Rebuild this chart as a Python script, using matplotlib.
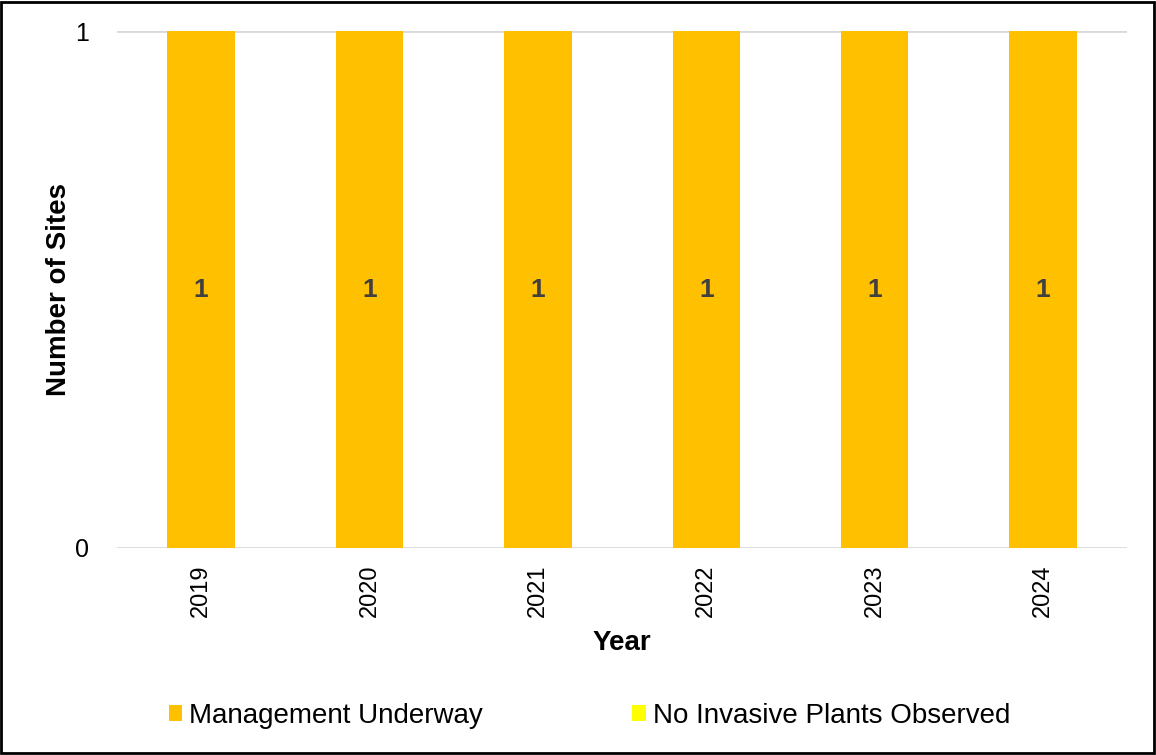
import matplotlib.pyplot as plt
import numpy as np
from matplotlib.patches import Rectangle

plt.rcParams['font.family'] = ['Liberation Sans', 'DejaVu Sans']

# data
years = ["2019", "2020", "2021", "2022", "2023", "2024"]
management_underway = [1, 1, 1, 1, 1, 1]
no_invasive_observed = [0, 0, 0, 0, 0, 0]

ORANGE = "#FFC000"
YELLOW = "#FFFF00"
GRID = "#D9D9D9"

fig = plt.figure(figsize=(11.56, 7.55), dpi=100)
ax = fig.add_axes([0.1012, 0.2742, 0.8738, 0.6847])

x = np.arange(len(years))
b1 = ax.bar(x, management_underway, width=0.4, color=ORANGE,
            label="Management Underway", zorder=2)
b2 = ax.bar(x, no_invasive_observed, width=0.4, bottom=management_underway,
            color=YELLOW, label="No Invasive Plants Observed", zorder=2)
ax.bar_label(b1, labels=[str(v) for v in management_underway], label_type="center",
             fontsize=19, fontweight="bold", color="#404040")

ax.set_xlim(-0.5, len(years) - 0.5)
ax.set_ylim(0, 1)
ax.set_yticks([0, 1])
ax.set_xticks(x)
ax.set_xticklabels(years, rotation=90, fontsize=17)
ax.tick_params(axis="y", labelsize=18, length=0, pad=20)
ax.tick_params(axis="x", length=0, pad=12)
ax.grid(axis="y", color=GRID, linewidth=2, zorder=0)
for s in ax.spines.values():
    s.set_visible(False)
ax.set_axisbelow(True)

ax.set_ylabel("Number of Sites", fontsize=20, fontweight="bold")
ax.yaxis.set_label_coords(-0.045, 0.5)
ax.set_xlabel("Year", fontsize=20, fontweight="bold")
ax.xaxis.set_label_coords(0.5, -0.158)

fig.legend(handles=[b1, b2], loc="center", bbox_to_anchor=(0.510, 0.052), ncol=2,
           frameon=False, fontsize=20, handlelength=0.5, handleheight=0.5,
           handletextpad=0.25, columnspacing=5.37, borderpad=0, borderaxespad=0)

# outer border
fig.patches.append(Rectangle((0.001, 0.002), 0.997, 0.996, transform=fig.transFigure,
                             fill=False, edgecolor="black", linewidth=2))

fig.savefig("out.png", dpi=100)
